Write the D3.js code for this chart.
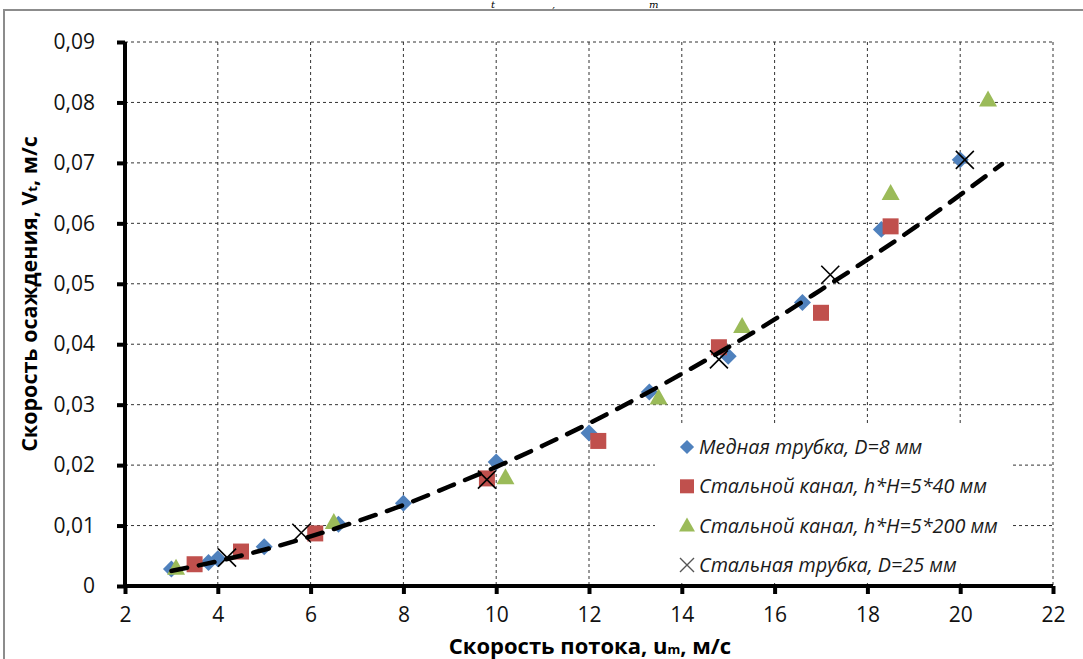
<!DOCTYPE html>
<html>
<head>
<meta charset="utf-8">
<script src="https://cdnjs.cloudflare.com/ajax/libs/d3/7.8.5/d3.min.js"></script>
<style>
  body { margin: 0; background: #fff; }
  svg { display: block; font-family: 'Open Sans', sans-serif; }
</style>
</head>
<body>
<div class="chart"></div>
<script>
var W = 1083, H = 659
var margin = {top: 42, left: 125, right: 1083 - 1053, bottom: 659 - 586}

// data
var copperX = [3.0, 3.8, 4.0, 5.0, 6.6, 8.0, 10.0, 12.0, 13.3, 15.0, 16.6, 18.3, 20.0]
var copperY = [0.0028, 0.0039, 0.0045, 0.0065, 0.0102, 0.0137, 0.0205, 0.0253, 0.0321, 0.0380, 0.0469, 0.0590, 0.0705]
var ch40X = [3.5, 4.5, 6.1, 9.8, 12.2, 14.8, 17.0, 18.5]
var ch40Y = [0.0036, 0.0057, 0.0087, 0.0178, 0.0240, 0.0395, 0.0452, 0.0595]
var ch200X = [3.1, 6.5, 10.2, 13.5, 15.3, 18.5, 20.6]
var ch200Y = [0.0030, 0.0106, 0.0180, 0.0312, 0.0430, 0.0650, 0.0805]
var steelX = [4.2, 5.8, 9.8, 14.8, 17.2, 20.1]
var steelY = [0.0047, 0.0088, 0.0176, 0.0375, 0.0515, 0.0705]
var trendX = [3, 4, 5, 6, 7, 8, 9, 10, 11, 12, 13, 14, 15, 16, 17, 18, 19, 20, 20.9]
var trendY = [0.0025, 0.0041, 0.0060, 0.0082, 0.0107, 0.0134, 0.0165, 0.0197, 0.0232, 0.0269, 0.0309, 0.0351, 0.0395, 0.0441, 0.0490, 0.0540, 0.0592, 0.0647, 0.0698]

var xTicks = [2, 4, 6, 8, 10, 12, 14, 16, 18, 20, 22]
var yTicks = [0, 0.01, 0.02, 0.03, 0.04, 0.05, 0.06, 0.07, 0.08, 0.09]
var legendNames = ['Медная трубка, D=8 мм', 'Стальной канал, h*H=5*40 мм', 'Стальной канал, h*H=5*200 мм', 'Стальная трубка, D=25 мм']

var blue = '#4f81bd', red = '#c0504d', green = '#9bbb59'

var svg = d3.select('.chart')
  .append('svg')
  .attr('width', W)
  .attr('height', H)

var x = d3.scaleLinear().domain([2, 22]).range([margin.left, W - margin.right])
var y = d3.scaleLinear().domain([0, 0.09]).range([H - margin.bottom, margin.top])

// outer frame of the chart
svg.append('rect')
  .attr('x', 4).attr('y', 10)
  .attr('width', W + 10).attr('height', H + 10)
  .attr('fill', 'none').attr('stroke', '#8c8c8c').attr('stroke-width', 2)

// caption fragment above the frame
svg.append('g').attr('font-family', 'DejaVu Serif').attr('font-style', 'italic').attr('font-size', 10).attr('fill', '#000')
  .selectAll('text').data([['t', 491], [',', 552], ['m', 649]])
  .enter().append('text')
  .attr('x', function(d) { return d[1] }).attr('y', 8)
  .text(function(d) { return d[0] })

// grid
svg.append('g').selectAll('line')
  .data(xTicks.slice(1))
  .enter().append('line')
  .attr('x1', function(d) { return x(d) }).attr('x2', function(d) { return x(d) })
  .attr('y1', y(0.09)).attr('y2', y(0))
  .attr('stroke', '#333').attr('stroke-width', 1).attr('stroke-dasharray', '3,3')

svg.append('g').selectAll('line')
  .data(yTicks.slice(1))
  .enter().append('line')
  .attr('x1', x(2)).attr('x2', x(22))
  .attr('y1', function(d) { return y(d) }).attr('y2', function(d) { return y(d) })
  .attr('stroke', '#333').attr('stroke-width', 1).attr('stroke-dasharray', '3,3')

// axes
var fmt = function(d) { return d === 0 ? '0' : d3.format('.2f')(d).replace('.', ',') }

var yAxis = svg.append('g')
  .attr('transform', 'translate(' + x(2) + ',0)')
  .call(d3.axisLeft(y).tickValues(yTicks).tickFormat(fmt).tickSize(8).tickPadding(22))
var xAxis = svg.append('g')
  .attr('transform', 'translate(0,' + y(0) + ')')
  .call(d3.axisBottom(x).tickValues(xTicks).tickSize(8).tickPadding(13))

;[yAxis, xAxis].forEach(function(a) {
  a.select('.domain').attr('stroke', '#000').attr('stroke-width', 4)
  a.selectAll('.tick line').attr('stroke', '#000').attr('stroke-width', 4)
  a.selectAll('.tick text').attr('font-family', 'Open Sans').attr('font-size', 21).attr('fill', '#111')
})
yAxis.select('.domain').attr('d', 'M0,' + y(0.09) + 'V' + y(0))
xAxis.select('.domain').attr('d', 'M' + x(2) + ',0H' + x(22))

// axis titles
var yt = svg.append('text')
  .attr('transform', 'translate(37,294) rotate(-90)')
  .attr('text-anchor', 'middle').attr('font-weight', 'bold').attr('font-size', 21.5).attr('fill', '#000')
yt.append('tspan').text('Скорость осаждения, V')
yt.append('tspan').attr('font-size', 13).text('t')
yt.append('tspan').text(', м/с')

var xt = svg.append('text')
  .attr('x', 590).attr('y', 654)
  .attr('text-anchor', 'middle').attr('font-weight', 'bold').attr('font-size', 22).attr('fill', '#000')
xt.append('tspan').text('Скорость потока, u')
xt.append('tspan').attr('font-size', 13).text('m')
xt.append('tspan').text(', м/с')

// markers
function pairs(xs, ys) { return xs.map(function(v, i) { return [v, ys[i]] }) }

svg.append('g').selectAll('rect')
  .data(pairs(copperX, copperY))
  .enter().append('rect')
  .attr('x', -6).attr('y', -6).attr('width', 12).attr('height', 12)
  .attr('fill', blue)
  .attr('transform', function(d) { return 'translate(' + x(d[0]) + ',' + y(d[1]) + ') rotate(45)' })

svg.append('g').selectAll('rect')
  .data(pairs(ch40X, ch40Y))
  .enter().append('rect')
  .attr('x', function(d) { return x(d[0]) - 8 }).attr('y', function(d) { return y(d[1]) - 8 })
  .attr('width', 16).attr('height', 16)
  .attr('fill', red)

var tri = 'M0,-9L9,7L-9,7Z'
svg.append('g').selectAll('path')
  .data(pairs(ch200X, ch200Y))
  .enter().append('path')
  .attr('d', tri)
  .attr('fill', green)
  .attr('transform', function(d) { return 'translate(' + x(d[0]) + ',' + y(d[1]) + ')' })

var cross = 'M-9,-9L9,9M-9,9L9,-9'
svg.append('g').selectAll('path')
  .data(pairs(steelX, steelY))
  .enter().append('path')
  .attr('d', cross)
  .attr('stroke', '#000').attr('stroke-width', 1.6).attr('fill', 'none')
  .attr('transform', function(d) { return 'translate(' + x(d[0]) + ',' + y(d[1]) + ')' })

// trend line
var line = d3.line()
  .x(function(d) { return x(d[0]) })
  .y(function(d) { return y(d[1]) })
  .curve(d3.curveMonotoneX)

svg.append('path')
  .datum(pairs(trendX, trendY))
  .attr('d', line)
  .attr('fill', 'none').attr('stroke', '#000').attr('stroke-width', 4.5)
  .attr('stroke-dasharray', '16,12').attr('stroke-linecap', 'round')

// legend
var lg = svg.append('g')
lg.append('rect')
  .attr('x', 655).attr('y', 423).attr('width', 357).attr('height', 160)
  .attr('fill', '#fff')

var rows = lg.selectAll('g.item')
  .data(legendNames)
  .enter().append('g')
  .attr('class', 'item')
  .attr('transform', function(d, i) { return 'translate(687,' + (447 + i * 39.3) + ')' })

rows.append('text')
  .attr('x', 12).attr('y', 7)
  .attr('font-style', 'italic').attr('font-size', 19.8).attr('fill', '#1a1a1a')
  .text(function(d) { return d })

rows.each(function(d, i) {
  var g = d3.select(this)
  if (i === 0) g.append('rect').attr('x', -5).attr('y', -5).attr('width', 10).attr('height', 10).attr('fill', blue).attr('transform', 'rotate(45)')
  if (i === 1) g.append('rect').attr('x', -7).attr('y', -7).attr('width', 14).attr('height', 14).attr('fill', red)
  if (i === 2) g.append('path').attr('d', 'M0,-8L8,6L-8,6Z').attr('fill', green)
  if (i === 3) g.append('path').attr('d', 'M-7,-7L7,7M-7,7L7,-7').attr('stroke', '#555').attr('stroke-width', 1.4)
})
</script>
</body>
</html>
